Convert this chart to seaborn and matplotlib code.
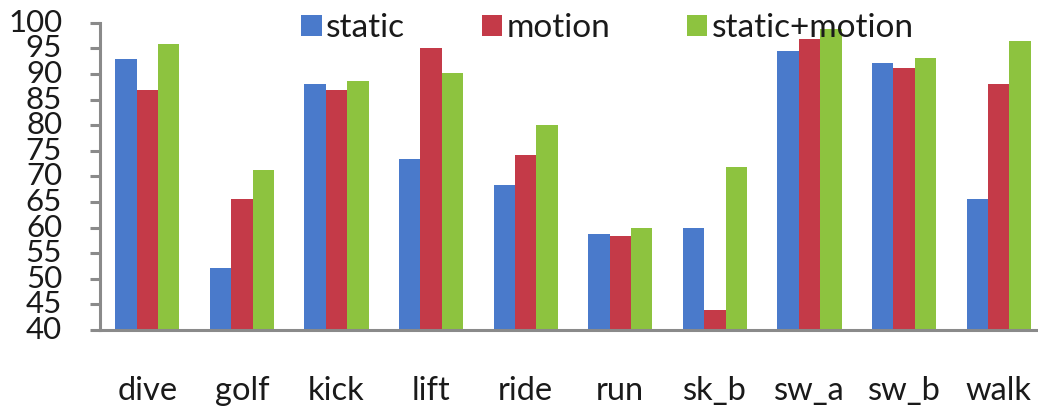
import numpy as np
import pandas as pd
import matplotlib
matplotlib.use("Agg")
import matplotlib.pyplot as plt
import seaborn as sns

categories = ["dive", "golf", "kick", "lift", "ride", "run", "sk_b", "sw_a", "sw_b", "walk"]
static = [92.9, 52.2, 88.0, 73.3, 68.3, 58.7, 60.0, 94.4, 92.1, 65.5]
motion = [86.8, 65.5, 86.8, 95.1, 74.1, 58.4, 44.0, 96.8, 91.2, 88.0]
static_motion = [95.8, 71.2, 88.7, 90.1, 80.1, 60.0, 71.8, 98.7, 93.1, 96.5]
series_names = ["static", "motion", "static+motion"]
y_ticks = list(range(40, 101, 5))

df = pd.DataFrame({
    "category": categories * 3,
    "series": sum([[s] * len(categories) for s in series_names], []),
    "value": static + motion + static_motion,
})

sns.set_theme(style="white")
plt.rcParams["font.family"] = ["Lato", "DejaVu Sans"]

palette = {"static": "#4A7ACB", "motion": "#C43A48", "static+motion": "#8DC33F"}

fig = plt.figure(figsize=(10.38, 4.12), dpi=100)
ax = fig.add_axes([100 / 1038, 82 / 412, 946 / 1038, 307.3 / 412])

sns.barplot(data=df, x="category", y="value", hue="series", order=categories,
            hue_order=series_names, palette=palette, width=0.677, gap=0,
            saturation=1, linewidth=0, ax=ax, legend=True)

ax.set_ylim(40, 100)
ax.set_yticks(y_ticks)
ax.set_xlim(-0.5, len(categories) - 0.5)
ax.set_xlabel("")
ax.set_ylabel("")

for side in ("top", "right"):
    ax.spines[side].set_visible(False)
for side in ("left", "bottom"):
    ax.spines[side].set_color("#8a8a8a")
    ax.spines[side].set_linewidth(2.2)

ax.tick_params(axis="y", which="major", direction="out", length=7.2, width=2.2,
               color="#8a8a8a", labelsize=22.5, pad=20, left=True,
               labelcolor="#1a1a1a")
ax.tick_params(axis="x", length=0, labelsize=23.5, pad=33, labelcolor="#1a1a1a")
for lab in ax.get_yticklabels():
    lab.set_verticalalignment("center")

handles, labels = ax.get_legend_handles_labels()
ax.get_legend().remove()
fig.legend(handles, labels, loc="upper left", bbox_to_anchor=(288 / 1038, 1.0),
           ncol=3, frameon=False, fontsize=24, handlelength=0.62, handleheight=0.62,
           handletextpad=0.12, columnspacing=2.3, borderaxespad=0,
           labelcolor="#1a1a1a")

fig.savefig("out.png", dpi=100, facecolor="white")
